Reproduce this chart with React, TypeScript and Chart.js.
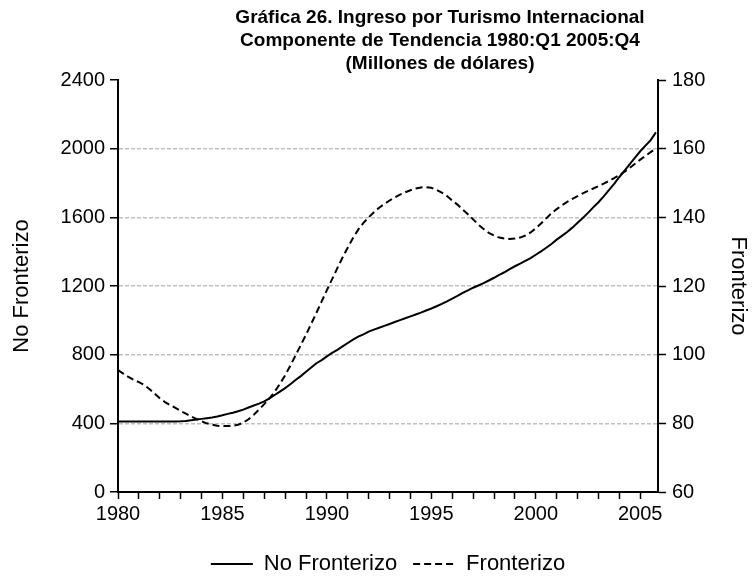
import React, { useEffect, useRef } from 'react';
import { Chart, registerables } from 'chart.js';

Chart.register(...registerables);

// Quarterly data 1980:Q1 - 2005:Q4
const years = [
  1980, 1981, 1982, 1983, 1984, 1985, 1986, 1987, 1988, 1989, 1990, 1991, 1992,
  1993, 1994, 1995, 1996, 1997, 1998, 1999, 2000, 2001, 2002, 2003, 2004, 2005,
];
const quarterOffsets = [0, 0.25, 0.5, 0.75];

// No Fronterizo (left axis), values by year: Q1, Q2, Q3, Q4
const noFronterizo = [
  410, 410, 410, 410, // 1980
  410, 410, 410, 410, // 1981
  410, 410, 410, 411, // 1982
  412, 414, 418, 422, // 1983
  426, 430, 434, 440, // 1984
  447, 455, 462, 470, // 1985
  480, 492, 504, 515, // 1986
  528, 545, 565, 585, // 1987
  605, 628, 652, 675, // 1988
  700, 725, 750, 768, // 1989
  790, 810, 828, 848, // 1990
  868, 888, 905, 918, // 1991
  934, 946, 957, 968, // 1992
  979, 990, 1001, 1012, // 1993
  1023, 1034, 1045, 1057, // 1994
  1069, 1082, 1096, 1111, // 1995
  1127, 1143, 1160, 1175, // 1996
  1190, 1203, 1217, 1232, // 1997
  1248, 1265, 1280, 1298, // 1998
  1315, 1330, 1346, 1362, // 1999
  1382, 1402, 1423, 1445, // 2000
  1470, 1492, 1515, 1540, // 2001
  1568, 1596, 1626, 1658, // 2002
  1688, 1722, 1758, 1795, // 2003
  1835, 1872, 1910, 1948, // 2004
  1985, 2018, 2050, 2095, // 2005
];

// Fronterizo (right axis)
const fronterizo = [
  95.5, 94.5, 93.5, 92.7, // 1980
  92.0, 91.2, 90.0, 88.7, // 1981
  87.3, 86.2, 85.3, 84.5, // 1982
  83.6, 82.8, 82.0, 81.3, // 1983
  80.6, 80.0, 79.6, 79.3, // 1984
  79.2, 79.2, 79.3, 79.6, // 1985
  80.2, 81.2, 82.5, 84.0, // 1986
  85.6, 87.3, 89.2, 91.5, // 1987
  94.0, 96.8, 99.8, 102.8, // 1988
  105.8, 109.0, 112.2, 115.5, // 1989
  118.8, 122.0, 125.2, 128.3, // 1990
  131.2, 134.0, 136.4, 138.4, // 1991
  140.0, 141.5, 142.8, 143.9, // 1992
  144.9, 145.8, 146.6, 147.3, // 1993
  147.9, 148.4, 148.7, 148.8, // 1994
  148.6, 148.0, 147.2, 146.2, // 1995
  144.9, 143.7, 142.3, 140.9, // 1996
  139.4, 137.9, 136.6, 135.5, // 1997
  134.7, 134.1, 133.8, 133.7, // 1998
  133.8, 134.1, 134.7, 135.6, // 1999
  136.8, 138.2, 139.7, 141.2, // 2000
  142.4, 143.5, 144.5, 145.4, // 2001
  146.2, 147.0, 147.7, 148.4, // 2002
  149.1, 149.8, 150.6, 151.4, // 2003
  152.3, 153.3, 154.4, 155.6, // 2004
  156.8, 157.9, 159.0, 160.1, // 2005
];

const leftTicks = { min: 0, max: 2400, step: 400 };
const rightTicks = { min: 60, max: 180, step: 20 };
const xRange = { min: 1980, max: 2005.85 };

const titleLines = [
  'Gráfica 26. Ingreso por Turismo Internacional',
  'Componente de Tendencia 1980:Q1 2005:Q4',
  '(Millones de dólares)',
];

const FONT = "'Liberation Sans', Arial, sans-serif";

const xValues: number[] = [];
years.forEach((y) => quarterOffsets.forEach((q) => xValues.push(y + q)));

const titlePlugin = {
  id: 'customTitle',
  afterDraw(chart: any) {
    const ctx = chart.ctx;
    ctx.save();
    ctx.fillStyle = '#000';
    ctx.font = `bold 19px ${FONT}`;
    ctx.textAlign = 'center';
    ctx.textBaseline = 'middle';
    const cx = chart.width / 2 + 64;
    titleLines.forEach((t, i) => {
      ctx.fillText(t, cx, 18 + i * 23);
    });
    ctx.restore();
  },
};

export default function App() {
  const ref = useRef<HTMLCanvasElement | null>(null);

  useEffect(() => {
    document.body.style.margin = '0';
    if (!ref.current) return;
    const tickFont = { family: FONT, size: 20 };
    const bigFont = { family: FONT, size: 22 };
    const chart = new Chart(ref.current, {
      type: 'line',
      data: {
        datasets: [
          {
            label: 'No Fronterizo',
            data: xValues.map((x, i) => ({ x, y: noFronterizo[i] })),
            borderColor: '#000',
            backgroundColor: '#000',
            borderWidth: 2,
            pointRadius: 0,
            yAxisID: 'y',
            tension: 0,
          },
          {
            label: 'Fronterizo',
            data: xValues.map((x, i) => ({ x, y: fronterizo[i] })),
            borderColor: '#000',
            backgroundColor: '#000',
            borderWidth: 2,
            borderDash: [7, 4],
            pointRadius: 0,
            yAxisID: 'y1',
            tension: 0,
          },
        ],
      },
      options: {
        responsive: false,
        animation: false,
        layout: { padding: { top: 80, left: 24, right: 0, bottom: -2 } },
        plugins: {
          legend: {
            position: 'bottom',
            labels: {
              boxWidth: 42,
              boxHeight: 0,
              color: '#000',
              font: bigFont,
              padding: 16,
            },
          },
          tooltip: { enabled: false },
          title: { display: false },
        },
        scales: {
          x: {
            type: 'linear',
            min: xRange.min,
            max: xRange.max,
            afterFit: (s: any) => {
              s.height = 45;
            },
            ticks: {
              stepSize: 1,
              includeBounds: false,
              autoSkip: false,
              maxRotation: 0,
              color: '#000',
              font: tickFont,
              padding: 3,
              callback: (v: any) => (Number(v) % 5 === 0 ? String(v) : ''),
            },
            grid: {
              drawOnChartArea: false,
              drawTicks: true,
              tickLength: 7,
              tickColor: '#000',
              tickWidth: 1.5,
            },
            border: { color: '#000', width: 2 },
          },
          y: {
            position: 'left',
            min: leftTicks.min,
            max: leftTicks.max,
            afterFit: (s: any) => {
              s.width = 94;
            },
            ticks: {
              stepSize: leftTicks.step,
              color: '#000',
              font: tickFont,
              padding: 5,
              callback: (v: any) => String(v),
            },
            title: {
              display: true,
              text: 'No Fronterizo',
              color: '#000',
              font: bigFont,
              padding: { top: -15, bottom: 0 },
            },
            grid: {
              color: (c: any) =>
                c.tick && c.tick.value === leftTicks.max ? 'rgba(0,0,0,0)' : '#c0c0c0',
              lineWidth: 1.5,
              tickColor: '#000',
              tickLength: 8,
              tickWidth: 1.5,
              tickBorderDash: [],
            },
            border: { color: '#000', width: 2, dash: [4, 2] },
          },
          y1: {
            position: 'right',
            min: rightTicks.min,
            max: rightTicks.max,
            afterFit: (s: any) => {
              s.width = 94;
            },
            ticks: {
              stepSize: rightTicks.step,
              color: '#000',
              font: tickFont,
              padding: 6,
              callback: (v: any) => String(v),
            },
            title: {
              display: true,
              text: 'Fronterizo',
              color: '#000',
              font: bigFont,
              padding: { top: 1, bottom: 0 },
            },
            grid: {
              drawOnChartArea: false,
              tickColor: '#000',
              tickLength: 8,
              tickWidth: 1.5,
            },
            border: { color: '#000', width: 2 },
          },
        },
      },
      plugins: [titlePlugin],
    } as any);
    return () => chart.destroy();
  }, []);

  return (
    <div style={{ width: 752, height: 583 }}>
      <canvas ref={ref} width={752} height={583} />
    </div>
  );
}
